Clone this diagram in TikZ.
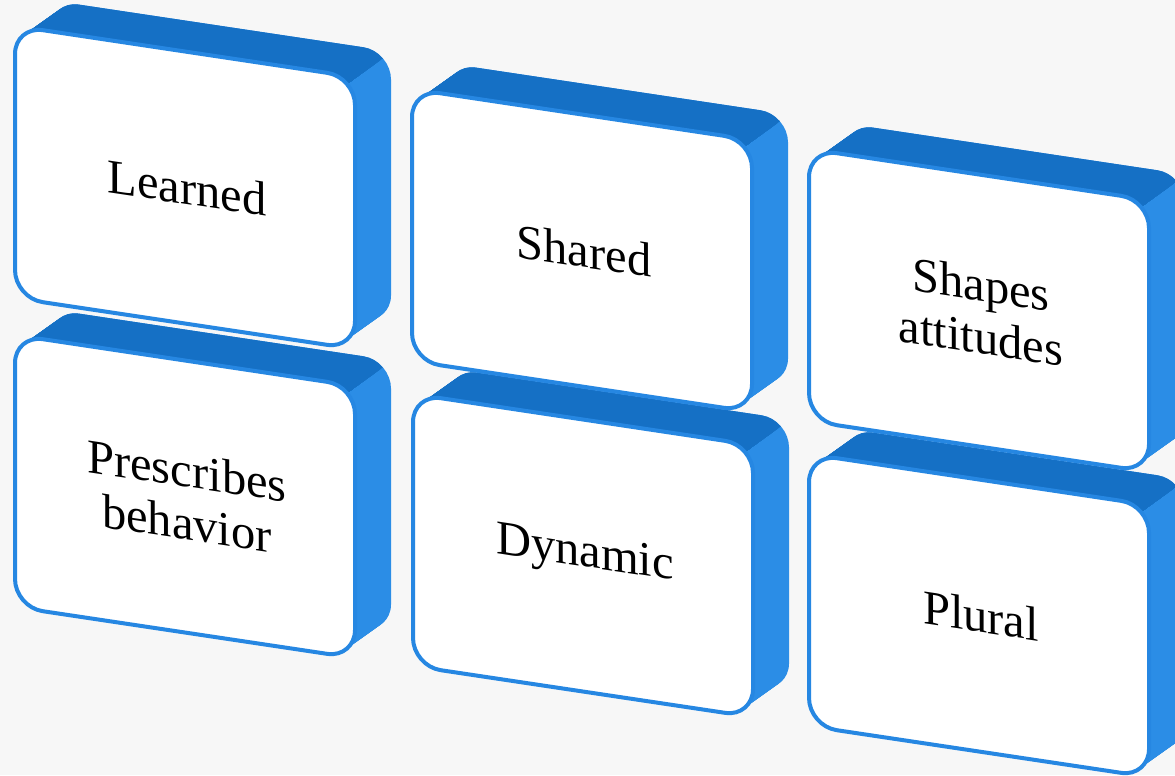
\documentclass[tikz,border=0pt]{standalone}
\usepackage{fontspec}
\setmainfont{Liberation Serif}
\usepackage{tikz}

\definecolor{topblue}{HTML}{1570C5}
\definecolor{sideblue}{HTML}{2B8DE6}
\definecolor{rimblue}{HTML}{2687E2}
\definecolor{paper}{HTML}{F7F7F7}

\tikzset{
	layer/.style={rounded corners=2.8mm},
	face/.style={fill=white, draw=rimblue, line width=0.4mm, rounded corners=2.8mm},
	word/.style={align=center, font=\fontsize{13.8}{15}\selectfont, transform shape}
}

\begin{document}
\begin{tikzpicture}[x=0.1mm, y=0.1mm]

	% background
	\fill[paper] (0,0) rectangle (1175,-775);
	\useasboundingbox (0,0) rectangle (1175,-775);

	% boxes: left / top / name / text (lower row first)
	\foreach \bx/\by/\name/\txt in {
		15/335/prescribes/{Prescribes\\behavior},
		413/394/dynamic/Dynamic,
		809/454/plural/Plural,
		15/26/learned/Learned,
		412/89/shared/Shared,
		809/149/shapes/{Shapes\\attitudes}} {
		\begin{scope}[shift={(\bx,-\by)}, yslant=-0.15]
			% depth, light side
			\foreach \i in {0,...,24}
				\fill[sideblue, layer] (36*\i/24, 31*\i/24) rectangle ++(340,-272);
			% depth, dark top
			\begin{scope}
				\clip (-28.2,-318.2) -- (439.8,84.8) -- (-100,84.8) -- (-100,-318.2) -- cycle;
				\foreach \i in {0,...,24}
					\fill[topblue, layer] (36*\i/24, 31*\i/24) rectangle ++(340,-272);
			\end{scope}
			% front
			\draw[face] (0,0) rectangle (340,-272);
			\node[word] (\name) at (172,-136) {\txt};
		\end{scope}
	}

\end{tikzpicture}
\end{document}
